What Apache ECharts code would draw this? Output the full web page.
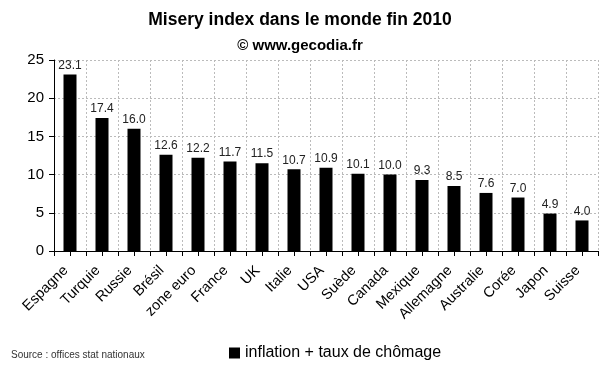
<!DOCTYPE html>
<html><head><meta charset="utf-8">
<script src="https://cdn.jsdelivr.net/npm/echarts@6/dist/echarts.min.js"></script>
<style>html,body{margin:0;padding:0;background:#fff}#c{width:600px;height:372px}</style>
</head><body><div id="c"></div>
<script>
const categories = ['Espagne','Turquie','Russie','Brésil','zone euro','France','UK','Italie','USA','Suède','Canada','Mexique','Allemagne','Australie','Corée','Japon','Suisse'];
const values = [23.1,17.4,16.0,12.6,12.2,11.7,11.5,10.7,10.9,10.1,10.0,9.3,8.5,7.6,7.0,4.9,4.0];
const seriesName = 'inflation + taux de chômage';
const titleText = 'Misery index dans le monde fin 2010';
const subtitleText = '© www.gecodia.fr';
const sourceText = 'Source : offices stat nationaux';

const halfCats = [];
categories.forEach(c => { halfCats.push(c + 'a'); halfCats.push(c + 'b'); });

const chart = echarts.init(document.getElementById('c'));
const font = 'Arial, "Liberation Sans", sans-serif';
chart.setOption({
  animation: false,
  backgroundColor: '#fff',
  title: [
    {text: titleText, left: 'center', top: 6, textStyle: {fontFamily: font, fontSize: 17.5, fontWeight: 'bold', color: '#000'}},
    {text: subtitleText, left: 'center', top: 33, textStyle: {fontFamily: font, fontSize: 15, fontWeight: 'bold', color: '#000'}},
    {text: sourceText, left: 6, top: 345, textStyle: {fontFamily: font, fontSize: 10, fontWeight: 'normal', color: '#333'}}
  ],
  legend: {
    data: [seriesName], left: 224, top: 340, icon: 'rect', itemWidth: 11, itemHeight: 11, itemGap: 4,
    textStyle: {fontFamily: font, fontSize: 16, color: '#000'}
  },
  grid: {left: 54, right: 2, top: 60, bottom: 121, containLabel: false},
  xAxis: [{
    type: 'category', data: categories,
    axisLine: {lineStyle: {color: '#000', width: 1}},
    axisTick: {show: false},
    axisLabel: {rotate: 45, interval: 0, fontFamily: font, fontSize: 14.5, color: '#000', margin: 13, padding: [0, 6, 0, 0]},
    splitLine: {show: true, interval: 0, lineStyle: {color: '#bbb', type: [2, 2], width: 1}}
  }, {
    type: 'category', data: halfCats, position: 'bottom',
    axisLine: {show: false},
    axisTick: {show: true, interval: 0, length: 5, inside: false, lineStyle: {color: '#000'}},
    axisLabel: {show: false}, splitLine: {show: false}
  }],
  yAxis: {
    type: 'value', min: 0, max: 25, interval: 5,
    axisLine: {show: true, lineStyle: {color: '#000'}},
    axisTick: {show: true, length: 5, lineStyle: {color: '#000'}},
    axisLabel: {fontFamily: font, fontSize: 15, color: '#000', margin: 10},
    splitLine: {show: true, lineStyle: {color: '#bbb', type: [2, 2], width: 1}}
  },
  series: [{
    name: seriesName, type: 'bar', data: values, xAxisIndex: 0, barWidth: 13,
    itemStyle: {color: '#000'},
    label: {show: true, position: 'top', distance: 3, formatter: p => p.value.toFixed(1), fontFamily: font, fontSize: 12, color: '#222'}
  }]
});
</script></body></html>
